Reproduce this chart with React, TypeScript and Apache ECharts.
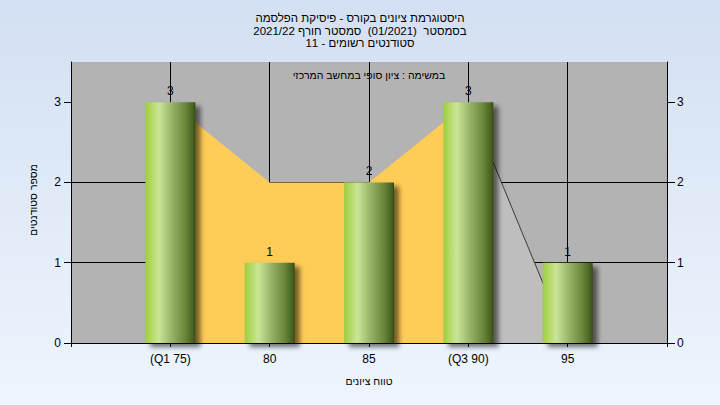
import React, { useEffect, useRef } from 'react';
import * as echarts from 'echarts';

const titleLines = [
  'היסטוגרמת ציונים בקורס - פיסיקת הפלסמה',
  'בסמסטר  (01/2021)  סמסטר חורף 2021/22',
  'סטודנטים רשומים - 11',
];
const subtitle = 'במשימה : ציון סופי במחשב המרכזי';
const xAxisName = 'טווח ציונים';
const yAxisName = 'מספר סטודנטים';

const grades = [75, 80, 85, 90, 95];
const gradeLabels = ['(Q1 75)', '80', '85', '(Q3 90)', '95'];
const counts = [3, 1, 2, 3, 1];
const trend = [3, 2, 2, 3, 0];
const yTicks = [0, 1, 2, 3];

export default function App() {
  const ref = useRef<HTMLDivElement>(null);
  useEffect(() => {
    document.body.style.margin = '0';
    const chart = echarts.init(ref.current!, null, { renderer: 'svg' });
    const font = "'Liberation Sans', 'DejaVu Sans', Arial, sans-serif";
    const barGrad = new echarts.graphic.LinearGradient(0, 0, 1, 0, [
      { offset: 0, color: '#9fce3e' },
      { offset: 0.27, color: '#cae596' },
      { offset: 0.55, color: '#93b064' },
      { offset: 0.8, color: '#68863a' },
      { offset: 0.97, color: '#435c1c' },
      { offset: 1, color: '#2f4010' },
    ]);
    const yAxisFor = (pos: 'left' | 'right') => ({
      type: 'value',
      position: pos,
      min: 0,
      max: 3.5,
      interval: 1,
      axisLine: { show: true, lineStyle: { color: '#000', width: 1 } },
      axisTick: { show: true, length: pos === 'left' ? 7 : 8, lineStyle: { color: '#000' }, customValues: yTicks },
      axisLabel: { color: '#000', fontSize: 12, margin: 10, fontFamily: font, customValues: yTicks },
      splitLine: { show: pos === 'left', showMaxLine: false, lineStyle: { color: '#000', width: 1 } },
    });
    const labelFor = (v: number) => {
      const i = grades.indexOf(v);
      return i >= 0 ? gradeLabels[i] : '';
    };
    const yellowPts = grades.slice(0, 4).map((g, i) => [g, trend[i]]);
    const grayPts = grades.slice(3).map((g, i) => [g, trend[i + 3]]);
    const txt = (text: string, x: number, y: number, size: number, rotation = 0) => ({
      type: 'text',
      x,
      y,
      rotation,
      z: 100,
      style: { text, fill: '#000', fontSize: size, fontFamily: font, align: 'center', verticalAlign: 'middle' },
    });
    chart.setOption({
      animation: false,
      textStyle: { fontFamily: font },
      grid: { left: 71, right: 53, top: 62, bottom: 62, show: true, backgroundColor: '#b3b3b3', borderWidth: 0 },
      xAxis: {
        type: 'value',
        min: 70,
        max: 100,
        interval: 5,
        axisLine: { show: true, lineStyle: { color: '#000', width: 1 } },
        axisTick: { show: true, length: 4, lineStyle: { color: '#000' } },
        axisLabel: { color: '#000', fontSize: 12, margin: 10, fontFamily: font, formatter: (v: number) => labelFor(v) },
        splitLine: { show: true, lineStyle: { color: '#000', width: 1 } },
      },
      yAxis: [yAxisFor('left'), yAxisFor('right')],
      series: [
        {
          type: 'line',
          data: yellowPts,
          symbol: 'none',
          lineStyle: { width: 0 },
          areaStyle: { color: '#ffcc57', opacity: 1 },
          z: 1,
        },
        {
          type: 'line',
          data: grayPts,
          symbol: 'none',
          lineStyle: { width: 1, color: '#3a3a3a' },
          areaStyle: { color: '#bebebe', opacity: 1 },
          z: 1,
        },
        {
          type: 'bar',
          data: grades.map((g, i) => [g, counts[i]]),
          barWidth: 50,
          itemStyle: {
            color: barGrad,
            shadowColor: 'rgba(0,0,0,0.55)',
            shadowBlur: 5,
            shadowOffsetX: 5,
            shadowOffsetY: 4,
          },
          label: { show: true, position: 'top', distance: 5, color: '#000', fontSize: 12, fontFamily: font },
          z: 2,
        },
      ],
      graphic: [
        txt(titleLines[0], 360, 18, 11.5),
        txt(titleLines[1], 360, 30.5, 11.5),
        txt(titleLines[2], 360, 43, 11.5),
        txt(subtitle, 369, 75, 10.5),
        txt(xAxisName, 369, 381, 10.5),
        txt(yAxisName, 33, 200, 10.5, Math.PI / 2),
      ],
    });
    return () => chart.dispose();
  }, []);
  return (
    <div
      ref={ref}
      style={{
        position: 'fixed',
        left: 0,
        top: 0,
        width: 720,
        height: 405,
        background: 'linear-gradient(to bottom, #d3e0f3, #eef5fd)',
      }}
    />
  );
}
